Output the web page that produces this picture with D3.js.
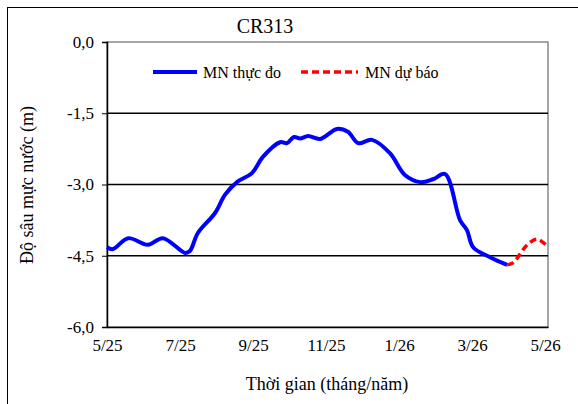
<!DOCTYPE html>
<html><head><meta charset="utf-8">
<script src="https://cdn.jsdelivr.net/npm/d3@7"></script>
<style>body{margin:0;background:#fff}svg text{font-family:"Liberation Serif","DejaVu Serif",serif !important}</style>
</head><body><svg width="578" height="404" font-family="Liberation Serif, DejaVu Serif, serif"></svg>
<script>
// months counted from 5/2025
var obsMonth = [0,0.16,0.58,1.12,1.53,2.14,2.27,2.49,2.96,3.23,3.56,3.97,4.27,4.74,4.93,5.12,5.29,5.51,5.84,6.30,6.60,6.88,7.26,7.75,8.16,8.58,8.93,9.26,9.67,9.86,10.03,10.49,10.96];
var obsDepth = [-4.32,-4.36,-4.13,-4.27,-4.13,-4.44,-4.40,-4.02,-3.60,-3.22,-2.95,-2.76,-2.42,-2.11,-2.13,-2.00,-2.03,-1.98,-2.04,-1.83,-1.89,-2.13,-2.06,-2.34,-2.80,-2.95,-2.89,-2.78,-3.75,-3.96,-4.32,-4.53,-4.69];
var fcMonth = [10.96,11.12,11.51,11.78,12.05];
var fcDepth = [-4.69,-4.65,-4.27,-4.15,-4.29];
var xTicks = [0,2,4,6,8,10,12];
var xLabels = ["5/25","7/25","9/25","11/25","1/26","3/26","5/26"];
var yTicks = [0,-1.5,-3,-4.5,-6];

var svg = d3.select("svg");
var L=107,R=548,T=42,B=327;
var x = d3.scaleLinear().domain([0,12.08]).range([L,R]);
var y = d3.scaleLinear().domain([-6,0]).range([B,T]);

svg.append("rect").attr("x",7.5).attr("y",7.5).attr("width",575).attr("height",400).attr("fill","none").attr("stroke","#000");
svg.append("rect").attr("x",L).attr("y",T).attr("width",R-L).attr("height",B-T).attr("fill","none").attr("stroke","#888").attr("stroke-width",1.5);

svg.selectAll(".grid").data(yTicks.filter(function(d){return d<0&&d>-6;})).enter().append("line")
 .attr("x1",L).attr("x2",R).attr("y1",function(d){return y(d);}).attr("y2",function(d){return y(d);})
 .attr("stroke","#000").attr("stroke-width",1.5);

var fmt = function(d){return d3.format(".1f")(d).replace(".",",").replace("−","-");};
var ya = svg.append("g").attr("transform","translate("+L+",0)")
 .call(d3.axisLeft(y).tickValues(yTicks).tickFormat(fmt).tickSize(5).tickPadding(8));
ya.attr("font-family",null);
ya.selectAll("text").attr("font-size",17).attr("fill","#000");
ya.select(".domain").attr("stroke","#000").attr("stroke-width",1.5);

var xa = svg.append("g").attr("transform","translate(0,"+B+")")
 .call(d3.axisBottom(x).tickValues(xTicks).tickFormat(function(d,i){return xLabels[i];}).tickSize(0).tickPadding(12));
xa.attr("font-family",null);
xa.selectAll("text").attr("font-size",17).attr("fill","#000");
xa.select(".domain").attr("stroke","#000").attr("stroke-width",1.5);

var line = d3.line().x(function(d){return x(d[0]);}).y(function(d){return y(d[1]);}).curve(d3.curveCatmullRom);
svg.append("path").datum(d3.zip(obsMonth,obsDepth)).attr("d",line).attr("fill","none").attr("stroke","#0000ff").attr("stroke-width",4);
svg.append("path").datum(d3.zip(fcMonth,fcDepth)).attr("d",line).attr("fill","none").attr("stroke","#ff0000").attr("stroke-width",3.5).attr("stroke-dasharray","7,4");

svg.append("text").attr("x",265).attr("y",33).attr("text-anchor","middle").attr("font-size",20).text("CR313");
svg.append("line").attr("x1",153).attr("x2",197).attr("y1",72).attr("y2",72).attr("stroke","#0000ff").attr("stroke-width",4);
svg.append("text").attr("x",203).attr("y",78).attr("font-size",16).text("MN thực đo");
svg.append("line").attr("x1",301).attr("x2",358).attr("y1",72).attr("y2",72).attr("stroke","#ff0000").attr("stroke-width",3.5).attr("stroke-dasharray","7,4");
svg.append("text").attr("x",365).attr("y",78).attr("font-size",16).text("MN dự báo");

svg.append("text").attr("x",327).attr("y",390).attr("text-anchor","middle").attr("font-size",18).text("Thời gian  (tháng/năm)");
svg.append("text").attr("transform","translate(33,185) rotate(-90)").attr("text-anchor","middle").attr("font-size",18).text("Độ sâu mực nước (m)");
</script></body></html>
